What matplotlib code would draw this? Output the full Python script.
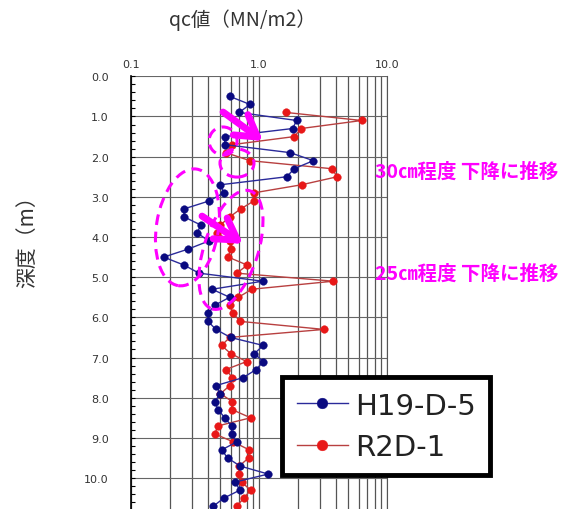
import matplotlib
matplotlib.use('Agg')
import matplotlib.pyplot as plt
from matplotlib.patches import Ellipse
from matplotlib.transforms import ScaledTranslation
from matplotlib.ticker import LogLocator, NullFormatter

# qc profiles (MN/m2) vs depth (m)
h19_depth = [0.5, 0.7, 0.9, 1.1, 1.3, 1.5, 1.7, 1.9, 2.1, 2.3, 2.5, 2.7, 2.9,
             3.1, 3.3, 3.5, 3.7, 3.9, 4.1, 4.3, 4.5, 4.7, 4.9, 5.1, 5.3, 5.5,
             5.7, 5.9, 6.1, 6.3, 6.5, 6.7, 6.9, 7.1, 7.3, 7.5, 7.7, 7.9, 8.1,
             8.3, 8.5, 8.7, 8.9, 9.1, 9.3, 9.5, 9.7, 9.9, 10.1, 10.3, 10.5, 10.7]
h19_qc = [0.59, 0.85, 0.70, 1.97, 1.83, 0.54, 0.54, 1.75, 2.66, 1.88, 1.65, 0.50, 0.53,
          0.41, 0.26, 0.26, 0.35, 0.33, 0.405, 0.28, 0.18, 0.26, 0.34, 1.07, 0.43, 0.59,
          0.45, 0.40, 0.40, 0.46, 0.60, 1.08, 0.92, 1.08, 0.95, 0.75, 0.46, 0.50, 0.45,
          0.48, 0.54, 0.61, 0.61, 0.67, 0.51, 0.57, 0.71, 1.18, 0.65, 0.71, 0.53, 0.44]

r2d_depth = [0.9, 1.1, 1.3, 1.5, 1.7, 1.9, 2.1, 2.3, 2.5, 2.7, 2.9,
             3.1, 3.3, 3.5, 3.7, 3.9, 4.1, 4.3, 4.5, 4.7, 4.9, 5.1, 5.3, 5.5,
             5.7, 5.9, 6.1, 6.3, 6.5, 6.7, 6.9, 7.1, 7.3, 7.5, 7.7, 7.9, 8.1,
             8.3, 8.5, 8.7, 8.9, 9.1, 9.3, 9.5, 9.7, 9.9, 10.1, 10.3, 10.5, 10.7]
r2d_qc = [1.63, 6.34, 2.13, 1.89, 0.62, 0.55, 0.85, 3.70, 4.09, 2.15, 0.915,
          0.915, 0.72, 0.59, 0.50, 0.47, 0.59, 0.60, 0.575, 0.81, 0.67, 3.81, 0.88, 0.69,
          0.59, 0.63, 0.71, 3.22, 0.59, 0.51, 0.60, 0.80, 0.55, 0.62, 0.59, 0.50, 0.62,
          0.62, 0.86, 0.48, 0.45, 0.63, 0.84, 0.83, 0.70, 0.70, 0.73, 0.86, 0.76, 0.67]

x_ticks = [0.1, 1.0, 10.0]
x_ticklabels = ['0.1', '1.0', '10.0']
y_ticks = [0, 1, 2, 3, 4, 5, 6, 7, 8, 9, 10]
y_ticklabels = [f'{v:.1f}' for v in y_ticks]

notes = ['30㎝程度 下降に推移', '25㎝程度 下降に推移']
note_depth = [2.37, 4.89]

jp = ['Noto Sans CJK JP', 'DejaVu Sans']
pink = '#ff00ff'

fig = plt.figure(figsize=(5.74, 5.10), dpi=100)
ax = fig.add_axes([131 / 574, 0.0, 256 / 574, 432.7 / 510])

ax.set_xscale('log')
ax.set_xlim(0.1, 10.0)
ax.set_ylim(10.77, 0.0)

ax.plot(h19_qc, h19_depth, '-o', color='#2a2a9a', lw=1.0, ms=5.5, mew=0.3,
        mfc='#0a0a80', mec='#0a0a80', label='H19-D-5', zorder=4)
ax.plot(r2d_qc, r2d_depth, '-o', color='#b84040', lw=1.0, ms=5.5, mew=0.3,
        mfc='#e81818', mec='#e81818', label='R2D-1', zorder=3)

# axes styling
ax.xaxis.tick_top()
ax.set_xticks(x_ticks)
ax.set_xticklabels(x_ticklabels)
ax.xaxis.set_minor_locator(LogLocator(base=10, subs=range(2, 10)))
ax.xaxis.set_minor_formatter(NullFormatter())
ax.tick_params(axis='x', which='both', length=0, pad=5, labelsize=8, labelcolor='#333333')
ax.set_yticks(y_ticks)
ax.set_yticklabels(y_ticklabels)
ax.set_yticks([v / 5 for v in range(0, 54)], minor=True)
ax.tick_params(axis='y', which='both', direction='in', length=3, width=0.8,
               pad=16, labelsize=8, labelcolor='#333333')
ax.grid(True, axis='x', which='both', color='#555555', lw=0.9)
ax.grid(True, axis='y', which='major', color='#666666', lw=0.8)
ax.spines['top'].set_visible(False)
ax.spines['bottom'].set_visible(False)
ax.spines['right'].set_color('#555555')
ax.spines['left'].set_linewidth(1.2)

# dashed ellipses (centre in data units, size in inches)
ellipses = [(0.524, 1.61, 0.28, 0.28, 0), (0.673, 2.16, 0.34, 0.28, 0),
            (0.276, 3.76, 0.62, 1.18, -9), (0.604, 4.32, 0.54, 1.24, -18)]
for cx, cy, w, h, ang in ellipses:
    tr = fig.dpi_scale_trans + ScaledTranslation(cx, cy, ax.transData)
    ax.add_patch(Ellipse((0, 0), w, h, angle=ang, transform=tr, fill=False,
                         ec=pink, lw=2.2, ls=(0, (3.5, 2.2)), zorder=6, clip_on=False))

# arrows
arrows = [((0.524, 0.89), (1.074, 1.61)), ((0.359, 3.48), (0.75, 4.17))]
for tail, tip in arrows:
    ax.annotate('', xy=tip, xytext=tail, zorder=7,
                arrowprops=dict(arrowstyle='->,head_length=0.75,head_width=0.45',
                                color=pink, lw=5, mutation_scale=20,
                                shrinkA=0, shrinkB=0))

for txt, d in zip(notes, note_depth):
    ax.text(8.05, d, txt, color=pink, fontsize=14, fontweight='bold', family=jp,
            va='center', ha='left', clip_on=False, zorder=8)

fig.text(242 / 574, 1 - 20 / 510, 'qc値（MN/m2）', family=jp, fontsize=14,
         color='#333333', ha='center', va='center')
fig.text(27 / 574, 1 - 237 / 510, '深度（m）', family=jp, fontsize=15,
         color='#333333', ha='center', va='center', rotation=90)

leg = fig.legend(loc='upper left', bbox_to_anchor=(282 / 574, 1 - 378 / 510),
                 fontsize=21, frameon=True, fancybox=False, framealpha=1,
                 edgecolor='black', borderpad=0.5, labelspacing=0.45,
                 handlelength=1.75, handletextpad=0.25, markerscale=1.4,
                 borderaxespad=0)
leg.get_frame().set_linewidth(3.5)
for t in leg.get_texts():
    t.set_color('#222222')

fig.savefig('out.png', dpi=100)
